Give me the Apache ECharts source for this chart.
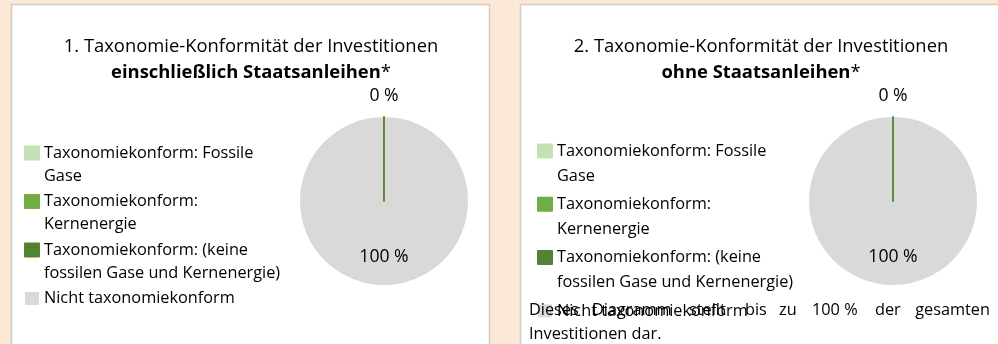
<!DOCTYPE html>
<html>
<head>
<meta charset="utf-8">
<script src="https://cdn.jsdelivr.net/npm/echarts@6/dist/echarts.min.js"></script>
<style>
  html, body { margin: 0; padding: 0; background: #FBE8D6; }
  #chart { width: 998px; height: 344px; }
</style>
</head>
<body>
<div id="chart"></div>
<script>
// Categories of the taxonomy breakdown, in legend order
const categories = [
  'Taxonomiekonform: Fossile Gase',
  'Taxonomiekonform: Kernenergie',
  'Taxonomiekonform: (keine fossilen Gase und Kernenergie)',
  'Nicht taxonomiekonform'
];
// Wrapped legend text for each category
const legendLines = [
  ['Taxonomiekonform: Fossile', 'Gase'],
  ['Taxonomiekonform:', 'Kernenergie'],
  ['Taxonomiekonform: (keine', 'fossilen Gase und Kernenergie)'],
  ['Nicht taxonomiekonform']
];
const categoryColors = ['#C5E0B4', '#70AD47', '#548235', '#D9D9D9'];

// Shares in percent
const valuesInclSovereign = [0, 0, 0, 100];
const valuesExclSovereign = [0, 0, 0, 100];

const titleNormal = [
  '1. Taxonomie-Konformität der Investitionen',
  '2. Taxonomie-Konformität der Investitionen'
];
const titleBold = ['einschließlich Staatsanleihen', 'ohne Staatsanleihen'];

const footnoteLine1 = ['Dieses', 'Diagramm', 'stellt', 'bis', 'zu', '100 %', 'der', 'gesamten'];
const footnoteLine2 = 'Investitionen dar.';

const FONT = 'Open Sans';
const FS = 16.3;        // legend and footnote text
const FS_TITLE = 18.4;  // chart titles
const FS_LABEL = 17.6;  // slice labels
const TEXT = '#000000';

const chart = echarts.init(document.getElementById('chart'), null, { renderer: 'canvas' });

// Pie data: the non-aligned share is listed first so the zero-width
// green slices are painted over it and stay visible as a radius line.
function pieData(values) {
  const order = [3, 0, 1, 2];
  return order.map(i => {
    const isZeroLabel = i === 2;
    const isGray = i === 3;
    return {
      name: categories[i],
      value: values[i],
      itemStyle: {
        color: categoryColors[i],
        borderColor: categoryColors[i],
        borderWidth: isGray ? 0 : 1.6
      },
      label: {
        show: isGray || isZeroLabel,
        position: 'inside',
        offset: isGray ? [0, 11] : [0, -60]
      }
    };
  });
}

function legendFormatter(name) {
  const lines = legendLines[categories.indexOf(name)];
  // pad to three lines so the icon sits beside the first line
  return lines.length === 2 ? '\n' + lines.join('\n') : '\n' + lines[0] + '\n';
}

function makePie(values, cx) {
  return {
    type: 'pie',
    center: [cx, 201],
    radius: 84,
    startAngle: 90,
    clockwise: true,
    avoidLabelOverlap: false,
    silent: true,
    data: pieData(values),
    label: {
      formatter: p => p.value + ' %',
      fontFamily: FONT,
      fontSize: FS_LABEL,
      color: TEXT
    },
    labelLine: { show: false },
    emphasis: { disabled: true }
  };
}

function makeLegend(left, top, lh, gapExtra) {
  return {
    orient: 'vertical',
    left: left,
    top: top,
    height: 330,
    padding: 0,
    itemWidth: 14,
    itemHeight: 13,
    itemGap: -lh + gapExtra,
    icon: 'rect',
    selectedMode: false,
    data: categories,
    formatter: legendFormatter,
    textStyle: { fontFamily: FONT, fontSize: FS, lineHeight: lh, color: TEXT }
  };
}

function makeTitle(idx, cx) {
  return {
    text: '{n|' + titleNormal[idx] + '}\n{b|' + titleBold[idx] + '}{n|*}',
    left: cx,
    top: 33.5,
    textAlign: 'center',
    padding: 0,
    textStyle: {
      fontWeight: 'normal',
      rich: {
        n: { fontFamily: FONT, fontSize: FS_TITLE, lineHeight: 26, color: TEXT, fontWeight: 'normal' },
        b: { fontFamily: FONT, fontSize: FS_TITLE, lineHeight: 26, color: TEXT, fontWeight: 'bold' }
      }
    }
  };
}

// Footnote under the second chart, justified across the panel width
const footStarts = [529, 592, 689, 745, 779, 812, 875];
const footGraphics = footnoteLine1.map((w, i) => ({
  type: 'text',
  z: 100,
  style: {
    text: w,
    x: i < footStarts.length ? footStarts[i] : 990,
    y: 310,
    align: i < footStarts.length ? 'left' : 'right',
    verticalAlign: 'middle',
    fontFamily: FONT,
    fontSize: FS,
    fill: TEXT
  }
}));
footGraphics.push({
  type: 'text',
  z: 100,
  style: {
    text: footnoteLine2, x: 529, y: 334, verticalAlign: 'middle',
    fontFamily: FONT, fontSize: FS, fill: TEXT
  }
});

chart.setOption({
  animation: false,
  backgroundColor: '#FBE8D6',
  title: [makeTitle(0, 251), makeTitle(1, 761)],
  legend: [makeLegend(24, 118.5, 23, 2.5), makeLegend(537, 113.5, 25, 3.3)],
  graphic: [
    {
      type: 'rect', z: -10, silent: true,
      shape: { x: 11.5, y: 4.5, width: 478, height: 350 },
      style: { fill: '#FFFFFF', stroke: '#D3CCC6', lineWidth: 1.5 }
    },
    {
      type: 'rect', z: -10, silent: true,
      shape: { x: 520.5, y: 4.5, width: 490, height: 350 },
      style: { fill: '#FFFFFF', stroke: '#D3CCC6', lineWidth: 1.5 }
    }
  ].concat(footGraphics),
  series: [makePie(valuesInclSovereign, 384), makePie(valuesExclSovereign, 893)]
});
</script>
</body>
</html>
